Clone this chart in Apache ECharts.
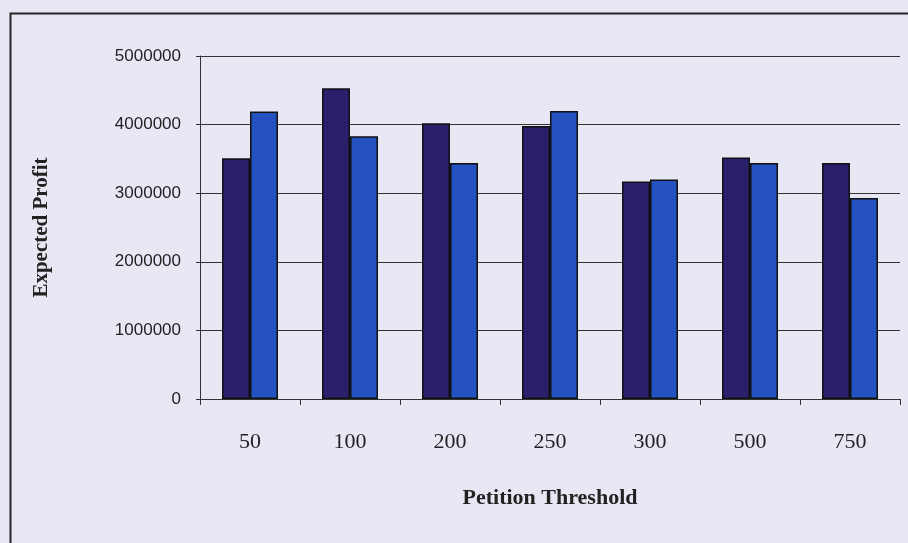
<!DOCTYPE html>
<html><head><meta charset="utf-8">
<script src="https://cdn.jsdelivr.net/npm/echarts@6/dist/echarts.min.js"></script>
<style>html,body{margin:0;padding:0;background:#e8e8f4;}#c{width:908px;height:543px;}</style>
</head><body><div id="c"></div>
<script>
const categories = ['50','100','200','250','300','500','750'];
const seriesA = [3510000, 4530000, 4020000, 3980000, 3170000, 3520000, 3440000];
const seriesB = [4190000, 3830000, 3440000, 4200000, 3200000, 3440000, 2930000];
const yTicks = {min: 0, max: 5000000, interval: 1000000};

const chart = echarts.init(document.getElementById('c'), null, {renderer: 'canvas'});
chart.setOption({
  backgroundColor: '#e8e8f4',
  animation: false,
  graphic: [{type: 'rect', left: 8, top: 11, shape: {x: 0, y: 0, width: 920, height: 560},
    style: {fill: 'none', stroke: '#222', lineWidth: 2}, silent: true}],
  grid: {left: 200, right: 8, top: 56, bottom: 144},
  xAxis: {
    type: 'category', data: categories,
    name: 'Petition Threshold', nameLocation: 'middle', nameGap: 88,
    nameTextStyle: {fontFamily: 'Liberation Serif', fontWeight: 'bold', fontSize: 22, color: '#222'},
    axisLine: {lineStyle: {color: '#333', width: 1}},
    axisTick: {show: true, length: 6, lineStyle: {color: '#333'}},
    axisLabel: {fontFamily: 'Liberation Serif', fontSize: 22, color: '#222', margin: 32}
  },
  yAxis: {
    type: 'value', min: yTicks.min, max: yTicks.max, interval: yTicks.interval,
    name: 'Expected Profit', nameLocation: 'middle', nameGap: 148,
    nameTextStyle: {fontFamily: 'Liberation Serif', fontWeight: 'bold', fontSize: 21, color: '#222'},
    axisLine: {show: true, lineStyle: {color: '#333', width: 1}},
    axisTick: {show: true, length: 4, lineStyle: {color: '#333'}},
    splitLine: {lineStyle: {color: '#333', width: 1}},
    axisLabel: {fontFamily: 'Liberation Sans', fontSize: 17, color: '#222', margin: 19,
      formatter: function (v) { return String(v); }}
  },
  series: [
    {type: 'bar', data: seriesA, barWidth: 28, barGap: '0%',
     itemStyle: {color: '#2a1f6a', borderColor: '#111', borderWidth: 1.5}},
    {type: 'bar', data: seriesB, barWidth: 28, barGap: '0%',
     itemStyle: {color: '#2452c0', borderColor: '#111', borderWidth: 1.5}}
  ]
});
</script></body></html>
